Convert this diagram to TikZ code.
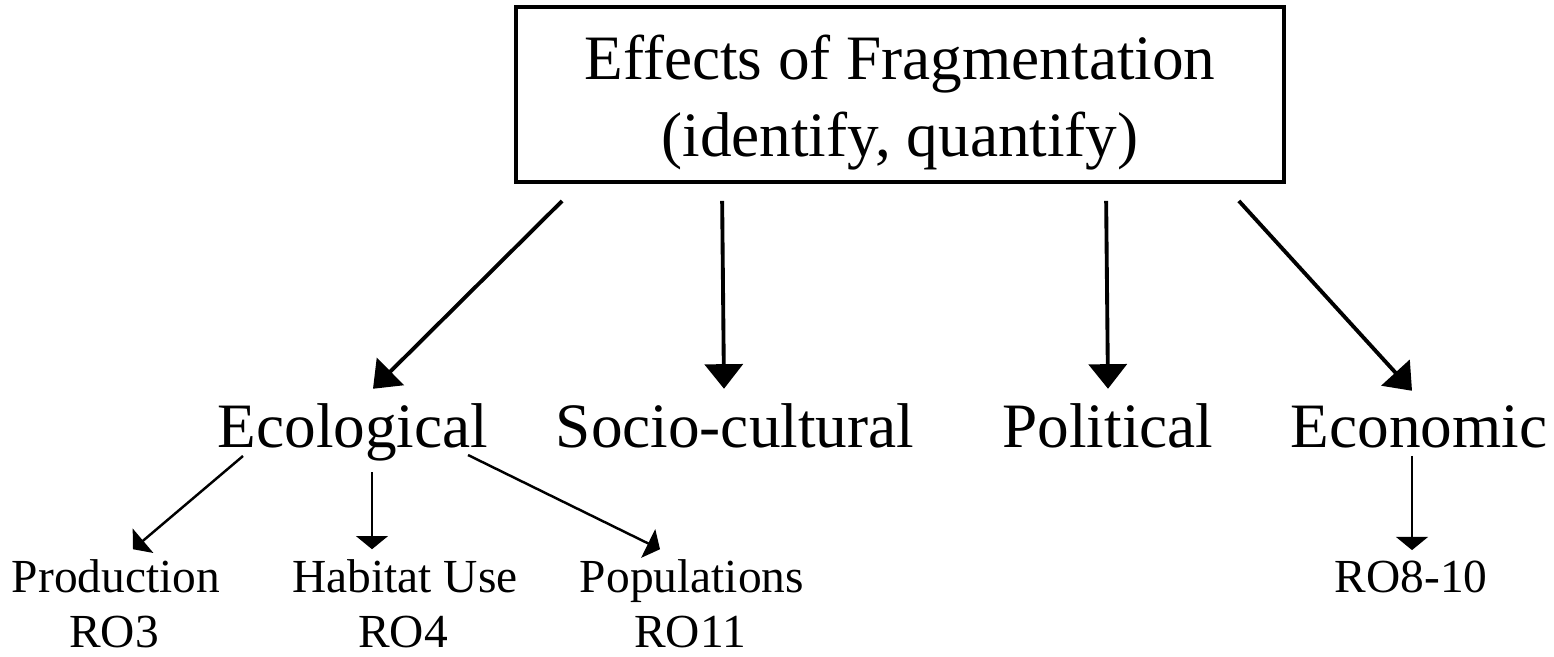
\documentclass[tikz,border=0pt]{standalone}
\usepackage{fontspec}
\setmainfont{Liberation Serif}
\usetikzlibrary{calc,arrows.meta}

\begin{document}
\begin{tikzpicture}[x=0.02cm,y=-0.02cm,
    big/.style={inner sep=0pt,anchor=base,font=\fontsize{36}{44}\selectfont},
    small/.style={inner sep=0pt,anchor=base,font=\fontsize{27}{32}\selectfont},
    bigarrow/.style={line width=2.2pt,-{Triangle[width=21.6pt,length=14pt]}},
    smallarrow/.style={line width=1.4pt,-{Triangle[width=18pt,length=7.5pt]}}]
    \useasboundingbox (0,0) rectangle (1554,656);
    % top box
    \node[draw,line width=2.2pt,minimum width=15.36cm,minimum height=3.5cm,align=center,
          font=\fontsize{36}{44.2}\selectfont] (box) at (900,94.5)
          {\rule{0pt}{34.5pt}Effects of Fragmentation\\(identify, quantify)};
    % second row
    \node[big] (eco) at (353,447) {Ecological};
    \node[big] (socio) at (735,447) {Socio-cultural};
    \node[big] (pol) at (1108,447) {Political};
    \node[big] (econ) at (1419,447) {Economic};
    % third row
    \node[small] (prod) at (116,592) {Production};
    \node[small] (ro3) at (114,647) {RO3};
    \node[small] (hab) at (405,592) {Habitat Use};
    \node[small] (ro4) at (403,647) {RO4};
    \node[small] (pop) at (692,592) {Populations};
    \node[small] (ro11) at (690,647) {RO11};
    \node[small] (ro810) at (1411,592) {RO8-10};
    % arrows from box
    \draw[bigarrow] ($(box.south west)+(48,17)$) -- ($(eco.north)+(20,-14)$);
    \draw[bigarrow] ($(box.south west)+(208,17)$) -- ($(socio.north)+(-11,-14)$);
    \draw[bigarrow] ($(box.south west)+(592,17)$) -- ($(pol.north)+(0,-14)$);
    \draw[bigarrow] ($(box.south east)+(-47,17)$) -- ($(econ.north)+(-7,-14)$);
    % arrows below
    \draw[smallarrow] ($(eco.south)+(-110,-5)$) -- ($(prod.north)+(17,-9.5)$);
    \draw[smallarrow] ($(eco.south)+(19,11)$) -- ($(hab.north)+(-33,-9.5)$);
    \draw[smallarrow] ($(eco.south)+(115,-6)$) -- ($(pop.north)+(-32,-9.5)$);
    \draw[smallarrow] ($(econ.south)+(-7,8)$) -- ($(ro810.north)+(1,-10)$);
\end{tikzpicture}
\end{document}
